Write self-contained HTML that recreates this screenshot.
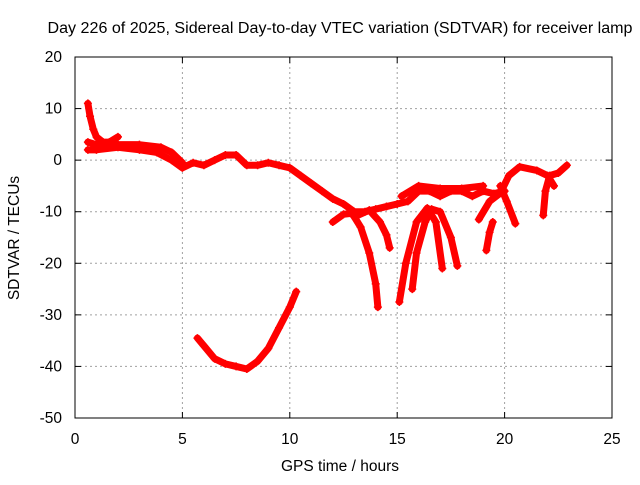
<!DOCTYPE html>
<html><head><meta charset="utf-8"><style>
body{margin:0;background:#fff;}
text{font-family:"Liberation Sans",sans-serif;font-size:15.5px;fill:#000;}
</style></head><body>
<svg id="chart" width="640" height="480" xmlns="http://www.w3.org/2000/svg">
<text x="340" y="33" text-anchor="middle" textLength="585" lengthAdjust="spacingAndGlyphs">Day 226 of 2025, Sidereal Day-to-day VTEC variation (SDTVAR) for receiver lamp</text>
<g id="grid"></g>
<g id="axes"></g>
<g id="series"></g>
<text x="340" y="471" text-anchor="middle">GPS time / hours</text>
<text transform="translate(19,238) rotate(-90)" text-anchor="middle">SDTVAR / TECUs</text>
</svg>
<script>
const xTicks=[0,5,10,15,20,25];
const yTicks=[20,10,0,-10,-20,-30,-40,-50];
const trackA=[[0.6,11],[0.7,8.5],[0.85,6],[1,4.5],[1.3,3.5],[1.6,3.5],[2,4.5]];
const trackMain=[[0.6,2],[1,2],[2,2.5],[3,2],[3.8,1.5],[4.5,0],[5,-1.5],[5.5,-0.5],[6,-1],[6.5,0],[7,1],[7.5,1],[8,-1],[8.5,-1],[9,-0.5],[9.5,-1],[10,-1.5],[10.5,-3],[11,-4.5],[11.5,-6],[12,-7.5],[12.5,-8.5],[13,-10],[13.5,-10],[14,-9.5],[14.5,-9],[15,-8.5],[15.5,-8],[16,-6],[16.5,-6],[17,-7],[17.5,-6],[18,-6],[18.5,-7],[19,-6],[19.5,-6.5],[20,-6]];
const trackB=[[0.6,3.5],[1,3],[2,3],[3,3],[4,2.5],[4.5,1.5],[5,-0.5]];
const trackLow=[[5.7,-34.5],[6,-36],[6.5,-38.5],[7,-39.5],[7.5,-40],[8,-40.5],[8.5,-39],[9,-36.5],[9.5,-32.5],[10,-28.5],[10.3,-25.5]];
const arc1=[[12,-12],[12.5,-10.5],[12.9,-10.3],[13.3,-13],[13.7,-18],[14,-24],[14.1,-28.5]];
const arc2=[[13,-11],[13.7,-9.7],[14.2,-12],[14.5,-14.5],[14.65,-17]];
const arc3=[[15.1,-27.5],[15.4,-20],[15.9,-12],[16.4,-9.3],[16.8,-12],[17.1,-21]];
const arc4=[[15.7,-25],[15.9,-18],[16.3,-12],[16.6,-9.5],[17,-10],[17.5,-15],[17.8,-20.5]];
const arc5=[[19.15,-17.5],[19.3,-14],[19.45,-12]];
const arc6=[[18.8,-11.5],[19.3,-8],[19.8,-6.4],[20.2,-3],[20.7,-1.3],[21.5,-2],[22,-3],[22.3,-5]];
const arc7=[[19.8,-5],[20.1,-8],[20.5,-12.3]];
const arc8=[[21.8,-10.7],[21.9,-6],[22.1,-3],[22.5,-2.5],[22.9,-1]];
const arc9=[[15.2,-7],[16,-5],[17,-5.5],[18,-5.5],[19,-5]];
const tracks=[trackA,trackMain,trackB,trackLow,arc1,arc2,arc3,arc4,arc5,arc6,arc7,arc8,arc9];
const X0=75,X1=612,Y0=57,Y1=418;
const sx=v=>X0+(v-0)/25*(X1-X0);
const sy=v=>Y0+(20-v)/70*(Y1-Y0);
const NS="http://www.w3.org/2000/svg";
function mk(t,p,a){const e=document.createElementNS(NS,t);for(const k in a)e.setAttribute(k,a[k]);p.appendChild(e);return e;}
const grid=document.getElementById('grid'),axes=document.getElementById('axes'),ser=document.getElementById('series');
xTicks.forEach(t=>{const x=sx(t);
 if(t>0&&t<25){const g=mk('line',grid,{x1:x,x2:x,y1:Y0,y2:Y1,stroke:'#a0a0a0','stroke-dasharray':'2,3'});
 
 }
 const l=mk('text',axes,{x:x,y:Y1+26,'text-anchor':'middle'});l.textContent=t;
 
 
 mk('line',axes,{x1:x,x2:x,y1:Y1,y2:Y1-6,stroke:'#000'});mk('line',axes,{x1:x,x2:x,y1:Y0,y2:Y0+6,stroke:'#000'});});
yTicks.forEach(t=>{const y=sy(t);
 if(t<20&&t>-50){const g=mk('line',grid,{x1:X0,x2:X1,y1:y,y2:y,stroke:'#a0a0a0','stroke-dasharray':'2,3'});
 
 }
 const l=mk('text',axes,{x:X0-13,y:y+5,'text-anchor':'end'});l.textContent=t;
 
 
 mk('line',axes,{x1:X0,x2:X0+6,y1:y,y2:y,stroke:'#000'});mk('line',axes,{x1:X1,x2:X1-6,y1:y,y2:y,stroke:'#000'});});
const fr=mk('rect',axes,{x:X0,y:Y0,width:X1-X0,height:Y1-Y0,fill:'none',stroke:'#000'});


tracks.forEach(tr=>{
 const p=mk('polyline',ser,{points:tr.map(d=>sx(d[0])+','+sy(d[1])).join(' '),fill:'none',stroke:'#f00','stroke-width':7,'stroke-linejoin':'round','stroke-linecap':'round'});
 
 
 tr.forEach(d=>{const x=sx(d[0]),y=sy(d[1]);
  const m=mk('path',ser,{d:`M${x-4},${y}H${x+4}M${x},${y-4}V${y+4}`,stroke:'#f00','stroke-width':1.5});
  
  });
});
</script>
</body></html>
